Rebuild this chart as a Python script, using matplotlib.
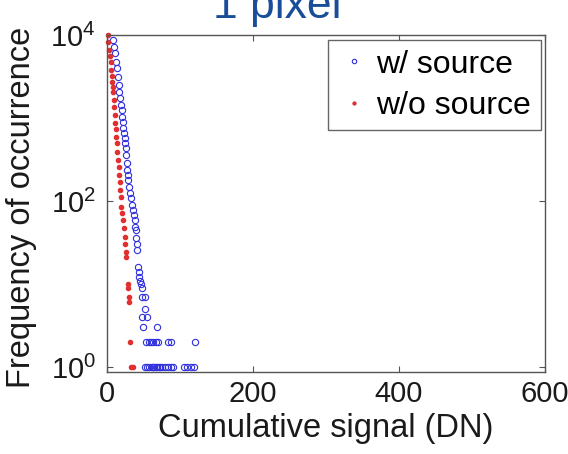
import matplotlib
matplotlib.use("Agg")
import matplotlib.pyplot as plt
from matplotlib.ticker import FixedLocator, NullLocator

# histogram values (cumulative signal in DN, counts)
# w/ source (blue circles)
signal_src = [8.2, 9.0, 11.0, 12.4, 13.7, 15.1, 15.8, 16.5, 17.9, 19.2,
              20.2, 21.0, 21.6, 22.4, 23.4, 24.7, 25.2, 25.8, 26.4, 27.1,
              27.6, 28.1, 29.3, 29.8, 31.6, 33.0, 33.9, 35.7, 37.1, 38.5,
              39.0, 39.5, 40.0, 40.8, 41.2,
              41.9, 43.3, 44.0, 44.6, 46.0, 47.7, 47.7, 52.0, 52.0, 47.7,
              54.5, 48.8, 68.3,
              54, 57, 60, 63, 67, 70, 84, 88, 120,
              52, 55, 58, 61, 63, 65, 67, 69, 71, 73, 76, 79, 83, 87, 91,
              105, 110, 115, 119]
freq_src = [8710, 7230, 6020, 4770, 3970, 3150, 2500, 2060, 1730, 1430,
            1250, 1040, 903, 751, 660, 574, 500, 431, 358, 285,
            236, 206, 179, 149, 124, 108, 90, 78, 68, 59,
            49, 45, 36, 30, 26,
            16, 14, 12, 11, 10, 9, 7, 7, 5, 4,
            4, 3, 3,
            2, 2, 2, 2, 2, 2, 2, 2, 2,
            1, 1, 1, 1, 1, 1, 1, 1, 1, 1, 1, 1, 1, 1, 1,
            1, 1, 1, 1]

# w/o source (red dots)
signal_nosrc = [0.7, 1.8, 3.2, 4.1, 5.1, 5.6, 6.5, 7.0, 7.8, 8.7,
                9.6, 10.2, 10.8, 11.5, 12.0, 12.8, 13.3, 14.1, 15.5, 16.0,
                16.9, 17.4, 17.9, 18.8, 19.5, 20.6, 22.0, 23.0, 24.0, 24.7,
                25.7, 26.2, 28.5, 29.0, 29.5, 30.0, 31.6, 33.0, 36.0]
freq_nosrc = [10000, 8240, 6590, 5580, 4730, 3790, 3210, 2720, 2360, 2060,
              1650, 1360, 1090, 871, 737, 590, 500, 389, 312, 257,
              206, 169, 136, 112, 85, 72, 59, 47, 37, 30,
              24, 21, 10, 9, 7, 6, 2, 1, 1]

x_ticks = [0, 200, 400, 600]
y_ticks = [1, 100, 10000]


def main():
    plt.rcParams['font.family'] = ['Liberation Sans', 'DejaVu Sans']

    fig = plt.figure(figsize=(5.68, 4.54), dpi=100)
    ax = fig.add_axes([0.1884, 0.1806, 0.7711, 0.7423])

    ax.plot(signal_src, freq_src, 'o', ms=4.5, mfc='none', mec='#3030dd',
            mew=0.8, label='w/ source', clip_on=False)
    ax.plot(signal_nosrc, freq_nosrc, '.', ms=6, color='#e03030',
            label='w/o source', clip_on=False)

    ax.set_yscale('log')
    ax.set_xlim(0, 600)
    ax.set_ylim(10 ** -0.06, 1e4)
    ax.xaxis.set_major_locator(FixedLocator(x_ticks))
    ax.yaxis.set_major_locator(FixedLocator(y_ticks))
    ax.yaxis.set_minor_locator(NullLocator())

    ax.tick_params(direction='in', length=4, width=0.8, top=True, right=True,
                   labelsize=21, colors='#555555', labelcolor='#1a1a1a')
    ax.tick_params(axis='x', pad=6)
    ax.tick_params(axis='y', pad=8)
    for sp in ax.spines.values():
        sp.set_color('#555555')
        sp.set_linewidth(1.0)

    ax.set_xlabel('Cumulative signal (DN)', fontsize=23.5, color='#1a1a1a')
    ax.set_ylabel('Frequency of occurrence', fontsize=23.5, color='#1a1a1a')
    ax.xaxis.set_label_coords(0.5, -0.122)
    ax.yaxis.set_label_coords(-0.16, 0.49)

    leg = ax.legend(loc='upper right', bbox_to_anchor=(0.99, 0.985),
                    borderaxespad=0, fontsize=23, fancybox=False,
                    framealpha=1, edgecolor='#666666', handlelength=1.0,
                    handletextpad=0.2, borderpad=0.3, labelspacing=0.35,
                    markerscale=0.7)
    leg.get_frame().set_linewidth(1.0)

    # title is cut by the top edge in the original
    fig.text(277 / 568, 1 - 18 / 454, '1 pixel', ha='center', va='baseline',
             fontsize=32, color='#1a4d99')

    fig.savefig('out.png', dpi=100)


if __name__ == "__main__":
    main()
